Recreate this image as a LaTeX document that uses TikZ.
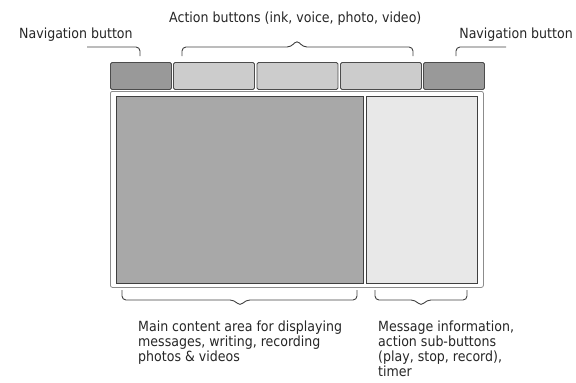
\documentclass[tikz,border=0pt]{standalone}
\usepackage{fontspec}
\setmainfont{DejaVu Sans Condensed}
\begin{document}
\begin{tikzpicture}[x=1pt,y=-1pt,
  lbl/.style={font=\fontsize{14}{15}\selectfont, text=black!85, inner sep=0pt},
  navbtn/.style={fill=black!40, draw=black!70, line width=0.9pt, rounded corners=1.5pt},
  actbtn/.style={fill=black!20, draw=black!70, line width=0.9pt, rounded corners=1.5pt},
  brace/.style={draw=black!75, line width=0.9pt, rounded corners=4pt},
  pane/.style={line width=1.2pt, draw=black!75}]
\useasboundingbox (0,0) rectangle (576,383);

% top button bar
\node[navbtn, minimum width=61pt, minimum height=27pt, anchor=north west] (navL) at (110,62) {};
\node[actbtn, minimum width=81pt, minimum height=27pt, anchor=north west] (act1) at (173,62) {};
\node[actbtn, minimum width=81pt, minimum height=27pt, anchor=north west] (act2) at (256.5,62) {};
\node[actbtn, minimum width=81pt, minimum height=27pt, anchor=north west] (act3) at (340,62) {};
\node[navbtn, minimum width=61pt, minimum height=27pt, anchor=north west] (navR) at (423,62) {};

% screen frame and panes
\node[draw=black!45, line width=0.8pt, fill=white, rounded corners=2pt,
      minimum width=373pt, minimum height=196pt, anchor=north west] (frame) at (110,91) {};
\node[pane, fill=black!34, minimum width=247pt, minimum height=187pt, anchor=north west] (main) at (116,96) {};
\node[pane, fill=black!9, minimum width=111pt, minimum height=187pt, anchor=north west] (info) at (366,96) {};

% top labels
\node[lbl, anchor=base west] (navLt) at (19,38) {Navigation button};
\node[lbl, anchor=base west] (actt) at (169,22) {Action buttons (ink, voice, photo, video)};
\node[lbl, anchor=base east] (navRt) at (573,38) {Navigation button};

% top braces
\coordinate (nlA) at (87,47);
\coordinate (nlB) at (140,47);
\coordinate (nlC) at (140,56);
\draw[brace] (nlA) -- (nlB) -- (nlC);
\coordinate (abA) at (182,56);
\coordinate (abB) at (182,47);
\coordinate (abC) at (291,47);
\coordinate (abT) at (297,40);
\coordinate (abD) at (303,47);
\coordinate (abE) at (413,47);
\coordinate (abF) at (413,56);
\draw[brace] (abA) -- (abB) -- (abC) -- (abT) -- (abD) -- (abE) -- (abF);
\coordinate (nrA) at (456,56);
\coordinate (nrB) at (456,47);
\coordinate (nrC) at (506,47);
\draw[brace] (nrA) -- (nrB) -- (nrC);

% bottom braces
\coordinate (mbA) at (122,290);
\coordinate (mbB) at (122,300);
\coordinate (mbC) at (234,300);
\coordinate (mbT) at (240,306);
\coordinate (mbD) at (246,300);
\coordinate (mbE) at (357,300);
\coordinate (mbF) at (357,290);
\draw[brace] (mbA) -- (mbB) -- (mbC) -- (mbT) -- (mbD) -- (mbE) -- (mbF);
\coordinate (ibA) at (375,290);
\coordinate (ibB) at (375,300);
\coordinate (ibC) at (415,300);
\coordinate (ibT) at (421,306);
\coordinate (ibD) at (427,300);
\coordinate (ibE) at (467,300);
\coordinate (ibF) at (467,290);
\draw[brace] (ibA) -- (ibB) -- (ibC) -- (ibT) -- (ibD) -- (ibE) -- (ibF);

% bottom labels
\node[lbl, anchor=north west, align=left] (maint) at (138,321)
  {Main content area for displaying\\messages, writing, recording\\photos \& videos};
\node[lbl, anchor=north west, align=left] (infot) at (378,321)
  {Message information,\\action sub-buttons\\(play, stop, record),\\timer};
\end{tikzpicture}
\end{document}
